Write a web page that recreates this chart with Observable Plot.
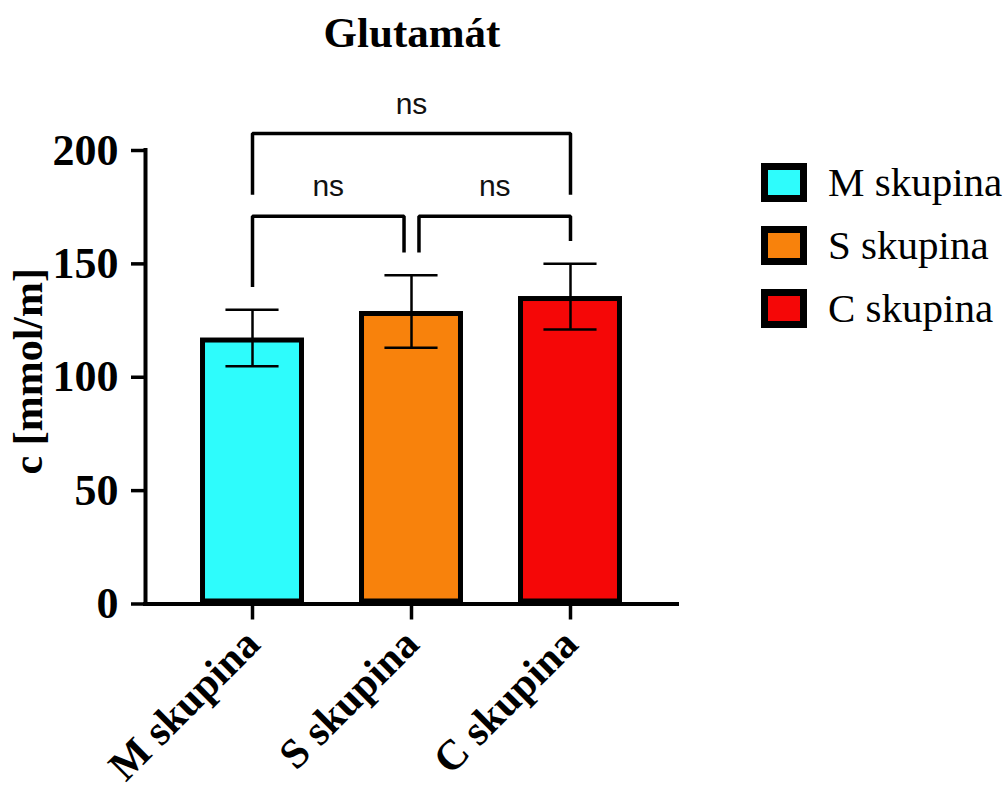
<!DOCTYPE html>
<html><head><meta charset="utf-8">
<script src="https://cdn.jsdelivr.net/npm/d3@7"></script>
<script src="https://cdn.jsdelivr.net/npm/@observablehq/plot@0.6"></script>
<style>
body{margin:0;background:#fff;}
#wrap{position:relative;width:1008px;height:789px;}
#wrap svg{position:absolute;left:0;top:0;}
#title{position:absolute;left:0;width:824px;top:11px;text-align:center;font:bold 43px "Liberation Serif";line-height:1;color:#000;}
#legend{position:absolute;left:761px;top:163px;font:41px "Liberation Serif";color:#000;}
.item{display:flex;align-items:center;height:39px;margin-bottom:24px;}
.sw{width:46px;height:39px;box-sizing:border-box;border:7px solid #000;flex:none;}
.lab{margin-left:21px;line-height:1;white-space:nowrap;}
</style></head><body>
<div id="wrap"><div id="title">Glutamát</div><div id="legend"></div></div>
<script>
// ---- data ----
const groups = ["M skupina", "S skupina", "C skupina"];
const means = [117.3, 129.0, 135.6];
const sds = [12.5, 16.0, 14.5];
const colors = ["#2efcfc", "#f8820c", "#f50707"];
const yTicks = [0, 50, 100, 150, 200];
const compA = ["M skupina", "S skupina", "M skupina"];
const compB = ["S skupina", "C skupina", "C skupina"];
const compLabel = ["ns", "ns", "ns"];
const compRow = [0, 0, 1];

// ---- layout ----
const xDomain = [-0.673, 2.673];
const half = 0.327, capHalf = 0.167, gap = 0.047;
const rowLevel = [171, 207.5];

const data = groups.map((g, i) => ({g, i, mean: means[i], lo: means[i] - sds[i], hi: means[i] + sds[i], color: colors[i]}));

// brackets
const bracketPts = [];
const bracketTxt = [];
compA.forEach((a, k) => {
  const ia = groups.indexOf(a), ib = groups.indexOf(compB[k]), row = compRow[k];
  const sharedL = compA.some((a2, j) => j !== k && compRow[j] === row && groups.indexOf(compB[j]) === ia);
  const sharedR = compA.some((a2, j) => j !== k && compRow[j] === row && groups.indexOf(a2) === ib);
  const xL = ia + (sharedL ? gap : 0), xR = ib - (sharedR ? gap : 0);
  const level = rowLevel[row];
  const botL = row === 0 ? data[ia].hi + 10 : rowLevel[0] + 9.5;
  const botR = row === 0 ? data[ib].hi + 10 : rowLevel[0] + 9.5;
  bracketPts.push({k, x: xL, y: botL}, {k, x: xL, y: level}, {k, x: xR, y: level}, {k, x: xR, y: botR});
  bracketTxt.push({x: (xL + xR) / 2, y: level + 8.8, t: compLabel[k]});
});

const chart = Plot.plot({
  width: 1008, height: 789,
  marginLeft: 145, marginRight: 331, marginTop: 150, marginBottom: 185.5,
  x: {domain: xDomain, axis: null},
  y: {domain: [0, 200], axis: null},
  color: {type: "identity"},
  style: {fontFamily: "Liberation Serif", color: "#000", background: "transparent", overflow: "visible"},
  marks: [
    Plot.rectY(data, {x1: d => d.i - half, x2: d => d.i + half, y1: 0, y2: "mean", fill: "color", stroke: "#000", strokeWidth: 5, inset: 2.5}),
    Plot.ruleX(data, {x: "i", y1: "lo", y2: "hi", strokeWidth: 2.5}),
    Plot.ruleY(data, {y: "hi", x1: d => d.i - capHalf, x2: d => d.i + capHalf, strokeWidth: 2.5}),
    Plot.ruleY(data, {y: "lo", x1: d => d.i - capHalf, x2: d => d.i + capHalf, strokeWidth: 2.5}),
    Plot.ruleY([0], {strokeWidth: 4, strokeLinecap: "square"}),
    Plot.ruleX([xDomain[0]], {strokeWidth: 4, strokeLinecap: "square"}),
    Plot.axisY({ticks: yTicks, tickSize: 14, tickPadding: 13, strokeWidth: 3.5, fontSize: 44, fontWeight: "bold", label: null}),
    Plot.axisX({ticks: [0, 1, 2], tickFormat: i => groups[i], tickSize: 16, tickPadding: 17, tickRotate: -45, strokeWidth: 3.5, fontSize: 42, fontWeight: "bold", label: null}),
    Plot.text(["c [mmol/m]"], {frameAnchor: "left", dx: -117, dy: -6, rotate: -90, textAnchor: "middle", fontSize: 42, fontWeight: "bold"}),
    Plot.line(bracketPts, {x: "x", y: "y", z: "k", strokeWidth: 3.5, strokeLinejoin: "miter", strokeLinecap: "butt"}),
    Plot.text(bracketTxt, {x: "x", y: "y", text: "t", lineAnchor: "bottom", fontSize: 30, fontFamily: "Liberation Sans", fill: "#111"})
  ]
});
document.getElementById("wrap").prepend(chart);

const legend = document.getElementById("legend");
groups.forEach((g, i) => {
  const it = document.createElement("div"); it.className = "item";
  const sw = document.createElement("div"); sw.className = "sw"; sw.style.background = colors[i];
  const lb = document.createElement("div"); lb.className = "lab"; lb.textContent = g;
  it.append(sw, lb); legend.append(it);
});
</script>
</body></html>
